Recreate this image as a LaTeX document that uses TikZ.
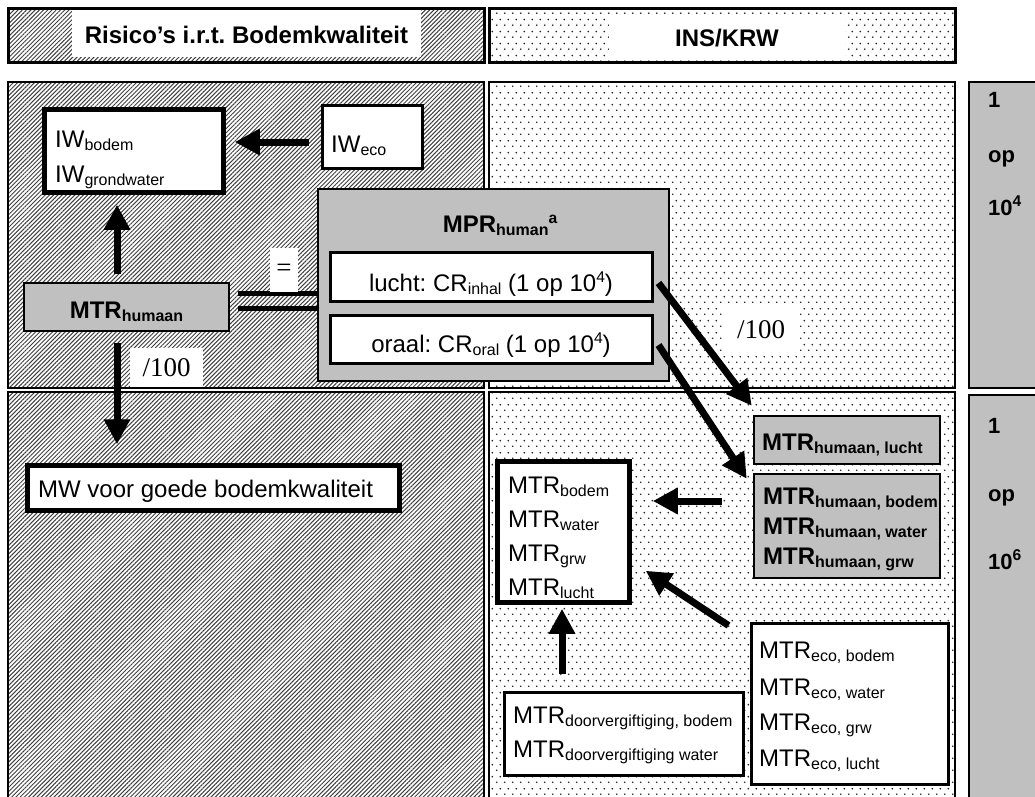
\documentclass[tikz,border=0pt]{standalone}
\usepackage{fontspec}
\setmainfont{Liberation Sans}
\newfontfamily\serifface{Liberation Serif}
\usetikzlibrary{arrows.meta,patterns,patterns.meta,fit,calc}
\frenchspacing

\definecolor{boxgray}{RGB}{192,192,192}

% staggered dot raster for the INS/KRW side
\pgfdeclarepatternformonly{stagdots}{\pgfqpoint{0pt}{0pt}}{\pgfqpoint{7.5pt}{12pt}}{\pgfqpoint{7.5pt}{12pt}}{%
  \pgfpathcircle{\pgfqpoint{1.9pt}{3pt}}{1pt}%
  \pgfpathcircle{\pgfqpoint{5.65pt}{9pt}}{1pt}%
  \pgfusepath{fill}}

% Word-style sub- and superscripts (set after each other, not stacked)
\newcommand\lowtxt[1]{\raisebox{-3.5pt}{\fontsize{16pt}{16pt}\selectfont #1}}
\newcommand\hightxt[1]{\raisebox{9pt}{\fontsize{15.6pt}{16pt}\selectfont #1}}

\begin{document}
\begin{tikzpicture}[x=1pt,y=-1pt,
  font=\fontsize{24pt}{28pt}\selectfont,
  hatchpanel/.style={draw, line width=2pt, pattern={Lines[angle=45,distance=3pt,line width=1pt]}, pattern color=black!75},
  dotpanel/.style={draw, line width=2pt, pattern=stagdots, pattern color=black!85},
  colgray/.style={draw, line width=2pt, fill=boxgray},
  boxfit/.style={inner sep=0pt, draw},
  thickbox/.style={fill=white, line width=5.5pt},
  thinbox/.style={fill=white, line width=3pt},
  graybox/.style={fill=boxgray, line width=2.5pt},
  txt/.style={anchor=base west, inner sep=0pt},
  ctxt/.style={anchor=base, inner sep=0pt},
  bold/.style={font=\fontsize{24pt}{28pt}\selectfont\bfseries},
  coltxt/.style={anchor=base west, inner sep=0pt, font=\fontsize{22pt}{26pt}\selectfont\bfseries},
  tag/.style={fill=white, inner sep=0pt, font=\fontsize{27pt}{30pt}\selectfont\serifface},
  whitebg/.style={fill=white, inner sep=0pt},
  arr/.style={line width=7pt, -{Triangle[length=25pt,width=25pt]}},
  link/.style={line width=5pt},
]
\fill[white] (0,0) rectangle (1035,796);
\useasboundingbox (0,0) rectangle (1035,796);

% ---- panels and headers
\path[hatchpanel, line width=3pt] (8,8) rectangle (484,62);
\path[dotpanel, line width=3pt] (489,8) rectangle (955,62);
\path[hatchpanel] (8,82) rectangle (484,388);
\path[hatchpanel] (8,392) rectangle (484,810);
\path[dotpanel] (489,82) rectangle (955,388);
\path[dotpanel] (489,392) rectangle (955,810);
\path[colgray] (969,82) rectangle (1045,388);
\path[colgray] (969,395) rectangle (1045,810);

\node[whitebg, minimum width=349pt, minimum height=47pt] (hlbg) at (246.5,33.5) {};
\node[ctxt, bold] (hl) at (246.5,43) {Risico’s i.r.t. Bodemkwaliteit};
\node[whitebg, minimum width=236pt, minimum height=42pt] (hrbg) at (727,37) {};
\node[ctxt, bold] (hr) at (727,46) {INS/KRW};

% ---- risk level column
\node[coltxt] (c1a) at (988,107) {1};
\node[coltxt] (c1b) at (988,162) {op};
\node[coltxt] (c1c) at (988,215) {10\hightxt{4}};
\node[coltxt] (c2a) at (988,433) {1};
\node[coltxt] (c2b) at (988,501) {op};
\node[coltxt] (c2c) at (988,569) {10\hightxt{6}};

% ---- soil quality side
\node[boxfit, thickbox, fit={(44.5,109.5) (223.5,192.5)}] (iw) {};
\node[txt] (iwa) at (55,147) {IW\lowtxt{bodem}};
\node[txt] (iwb) at (55,182) {IW\lowtxt{grondwater}};

\node[boxfit, thinbox, fit={(322,105) (422,168)}] (iweco) {};
\node[txt] (iwecot) at (331,152) {IW\lowtxt{eco}};

\node[boxfit, graybox, fit={(24,283) (229,331)}] (mtrh) {};
\node[ctxt, bold] (mtrht) at (126.5,318) {MTR\lowtxt{humaan}};

\node[boxfit, thickbox, fit={(27.5,465.5) (399.5,510.5)}] (mw) {};
\node[txt] (mwt) at (38,497) {MW voor goede bodemkwaliteit};

% ---- MPR human
\node[boxfit, graybox, fit={(318,189) (669,381)}] (mpr) {};
\node[ctxt, bold] (mprt) at (500,232) {MPR\lowtxt{human}\hightxt{a}};
\node[boxfit, thinbox, fit={(330,252) (652,301)}] (lucht) {};
\node[ctxt] (luchtt) at (491,291) {lucht: CR\lowtxt{inhal} (1 op 10\hightxt{4})};
\node[boxfit, thinbox, fit={(330,315) (652,363)}] (oraal) {};
\node[ctxt] (oraalt) at (491,352) {oraal: CR\lowtxt{oral} (1 op 10\hightxt{4})};

% ---- INS/KRW side
\node[boxfit, graybox, fit={(754,416) (940,464)}] (mlu) {};
\node[txt, bold] (mlut) at (762,450) {MTR\lowtxt{humaan, lucht}};

\node[boxfit, graybox, fit={(754,474) (940,578)}] (mhu) {};
\node[txt, bold] (mhua) at (763,504) {MTR\lowtxt{humaan, bodem}};
\node[txt, bold] (mhub) at (763,534) {MTR\lowtxt{humaan, water}};
\node[txt, bold] (mhuc) at (763,564) {MTR\lowtxt{humaan, grw}};

\node[boxfit, thickbox, fit={(497.5,461.5) (629.5,602.5)}] (mtrb) {};
\node[txt] (mtra) at (508,493) {MTR\lowtxt{bodem}};
\node[txt] (mtrw) at (508,527) {MTR\lowtxt{water}};
\node[txt] (mtrg) at (508,561) {MTR\lowtxt{grw}};
\node[txt] (mtrl) at (508,595) {MTR\lowtxt{lucht}};

\node[boxfit, thinbox, fit={(504,692) (743,775)}] (door) {};
\node[txt] (doora) at (513,723) {MTR\lowtxt{doorvergiftiging, bodem}};
\node[txt] (doorb) at (513,757) {MTR\lowtxt{doorvergiftiging water}};

\node[boxfit, thinbox, fit={(751,623) (948,784)}] (eco) {};
\node[txt] (ecoa) at (759,658) {MTR\lowtxt{eco, bodem}};
\node[txt] (ecob) at (759,695) {MTR\lowtxt{eco, water}};
\node[txt] (ecoc) at (759,730) {MTR\lowtxt{eco, grw}};
\node[txt] (ecod) at (759,766) {MTR\lowtxt{eco, lucht}};

% ---- connectors
\draw[arr] ($(iweco.west)+(-12,5.5)$) -- ($(iw.east)+(8.5,-9)$);
\draw[arr] ($(mtrh.north)+(-9.5,-8)$) -- ($(iw.south)+(-17,9.5)$);
\draw[arr] ($(mtrh.south)+(-9.5,11)$) -- ($(mw.north)+(-96.5,-18.5)$);
\draw[link] ($(mtrh.east)+(8,-14)$) -- ($(mpr.west)+(0,8)$);
\draw[link] ($(mtrh.east)+(8,1)$) -- ($(mpr.west)+(0,23)$);
\draw[arr] ($(lucht.east)+(5,6.5)$) -- ($(mlu.north west)+(-1,-9)$);
\draw[arr] ($(oraal.east)+(5,6)$) -- ($(mhu.north west)+(-6,6)$);
\draw[arr] ($(mhu.west)+(-31,-25)$) -- ($(mtrb.east)+(20.5,-31)$);
\draw[arr] ($(eco.north west)+(-21,4)$) -- ($(mtrb.south east)+(13.5,-34.5)$);
\draw[arr] ($(door.north)+(-61.5,-17)$) -- ($(mtrb.south)+(-1.5,3.5)$);

% ---- factor labels
\node[tag, minimum width=28pt, minimum height=44pt] (eq) at (284,270) {=};
\node[tag, minimum width=73pt, minimum height=39pt] (divl) at (166.5,367.5) {/100};
\node[tag, minimum width=78pt, minimum height=52pt] (divr) at (761,330) {/100};
\end{tikzpicture}
\end{document}
